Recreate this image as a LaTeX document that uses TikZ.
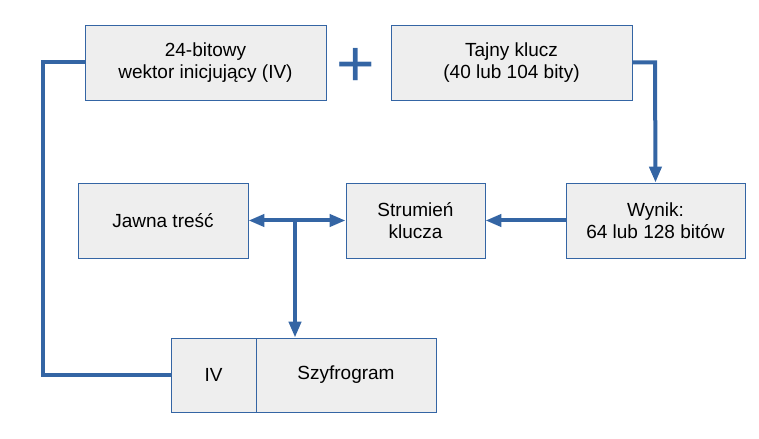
\documentclass[tikz,border=0pt]{standalone}
\usepackage{fontspec}
\setmainfont{Liberation Sans}
\usetikzlibrary{arrows.meta,calc}
\definecolor{lblue}{HTML}{3465A4}
\definecolor{boxfill}{HTML}{EEEEEE}
\tikzset{
  blk/.style={draw=lblue, line width=0.8bp, fill=boxfill, inner sep=0pt, align=center, font=\fontsize{19bp}{22bp}\selectfont},
  conn/.style={draw=lblue, line width=4bp},
  arr/.style={conn, -{Triangle[length=16bp, width=12bp]}},
  darr/.style={conn, {Triangle[length=16bp, width=12bp]}-{Triangle[length=16bp, width=12bp]}}
}
\begin{document}
\begin{tikzpicture}[x=1bp,y=-1bp]
\useasboundingbox (0,0) rectangle (759,439);
\node[blk, minimum width=241bp, minimum height=75bp] (iv) at (205.5,62.5) {24-bitowy\\wektor inicjujący (IV)};
\node[blk, minimum width=241bp, minimum height=75bp] (key) at (511.5,62.5) {Tajny klucz\\(40 lub 104 bity)};
\node[text=lblue, inner sep=0pt, font=\fontsize{66bp}{66bp}\selectfont] (plus) at (356,67.5) {+};
\node[blk, minimum width=179bp, minimum height=75bp] (wyn) at (655.5,220.5) {Wynik:\\64 lub 128 bitów};
\node[blk, minimum width=139bp, minimum height=75bp] (str) at (415.5,220.5) {Strumień\\klucza};
\node[blk, minimum width=170bp, minimum height=75bp] (jaw) at (163,220.5) {Jawna treść};
\node[blk, minimum width=85bp, minimum height=74bp] (ivc) at (213.5,375) {IV};
\node[blk, minimum width=180bp, minimum height=74bp] (szy) at (346,375) {Szyfrogram};
\coordinate (L1) at (43,62.5);
\coordinate (L2) at (43,375);
\coordinate (R1) at (655,62.5);
\coordinate (J) at (295,221);
\draw[conn, line join=miter] (iv.west) -- (L1) -- (L2) -- (ivc.west);
\draw[arr] (key.east) -- (R1) -- (wyn.north);
\draw[arr] (wyn.west) -- (str.east);
\draw[darr] (jaw.east) -- (str.west);
\draw[arr] (J) -- (J |- szy.north);
\end{tikzpicture}
\end{document}
